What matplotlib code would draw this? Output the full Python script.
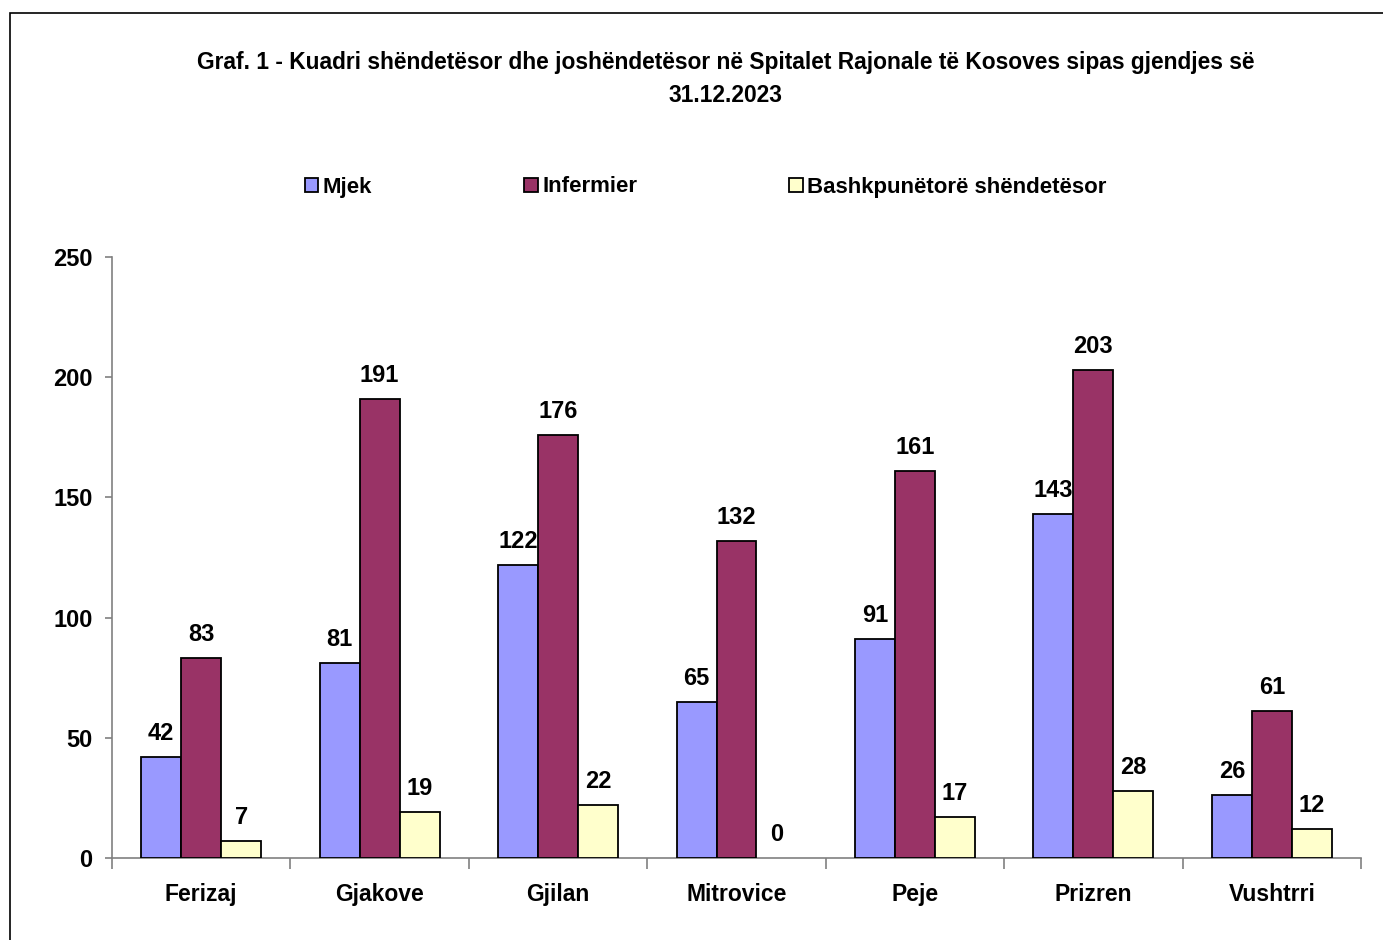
import numpy as np
import matplotlib
matplotlib.use("Agg")
import matplotlib.pyplot as plt
from matplotlib.patches import Rectangle, Patch

plt.rcParams["font.family"] = ["Liberation Sans", "DejaVu Sans"]
plt.rcParams["font.weight"] = "bold"

regions = ["Ferizaj", "Gjakove", "Gjilan", "Mitrovice", "Peje", "Prizren", "Vushtrri"]
mjek = [42, 81, 122, 65, 91, 143, 26]
infermier = [83, 191, 176, 132, 161, 203, 61]
bashk = [7, 19, 22, 0, 17, 28, 12]
series_names = ["Mjek", "Infermier", "Bashkpunëtorë shëndetësor"]
COLORS = ["#9999FF", "#993366", "#FFFFCC"]
yticks = [0, 50, 100, 150, 200, 250]

fig = plt.figure(figsize=(13.83, 9.40), dpi=100)
# outer chart frame (only top and left edges visible in the crop)
fig.patches.append(Rectangle((10 / 1383, -0.1), 1.2, 1 - 13 / 940 + 0.1,
                             transform=fig.transFigure, fill=False,
                             edgecolor="black", lw=1.2))

ax = fig.add_axes([112 / 1383, 1 - 858 / 940, (1361 - 112) / 1383, 601 / 940])

x = np.arange(len(regions))
w = 0.224
for i, (vals, col) in enumerate(zip([mjek, infermier, bashk], COLORS)):
    pos = x + (i - 1) * w
    bars = ax.bar(pos, vals, width=w, color=col, edgecolor="black", lw=1.3,
                  label=series_names[i], zorder=3)
    for b, p, v in zip(bars, pos, vals):
        if v == 0:
            b.set_linewidth(0)
        ax.text(p, v + 5, str(v), ha="center", va="bottom", fontsize=17,
                fontweight="bold")

ax.set_xlim(-0.5, len(regions) - 0.5)
ax.set_ylim(0, 250)
ax.set_yticks(yticks)
ax.set_yticklabels([str(t) for t in yticks], fontsize=17, fontweight="bold")
ax.set_xticks(x)
ax.set_xticklabels(regions, fontsize=16.5, fontweight="bold")
ax.set_xticks(np.arange(-0.5, len(regions)), minor=True)
ax.tick_params(axis="x", which="major", length=0, pad=18)
ax.tick_params(axis="x", which="minor", length=8, color="#808080", width=1.2)
ax.tick_params(axis="y", length=5, color="#808080", width=1.2, pad=9)
for s in ["top", "right"]:
    ax.spines[s].set_visible(False)
for s in ["left", "bottom"]:
    ax.spines[s].set_color("#808080")
    ax.spines[s].set_linewidth(1.2)

fig.text(726 / 1383, 1 - 62 / 940,
         "Graf. 1 - Kuadri shëndetësor dhe joshëndetësor në Spitalet Rajonale të Kosoves sipas gjendjes së",
         ha="center", va="center", fontsize=16.4, fontweight="bold")
fig.text(726 / 1383, 1 - 95 / 940, "31.12.2023",
         ha="center", va="center", fontsize=16.4, fontweight="bold")

handles = [Patch(facecolor=c, edgecolor="black", lw=1.3) for c in COLORS]
fig.legend(handles, series_names, loc="center left",
           bbox_to_anchor=(285 / 1383, 1 - 187 / 940), ncol=3, frameon=False,
           handlelength=0.6, handleheight=0.6, handletextpad=0.2,
           columnspacing=6.85, prop={"size": 16, "weight": "bold"})

fig.savefig("out.png", dpi=100)
